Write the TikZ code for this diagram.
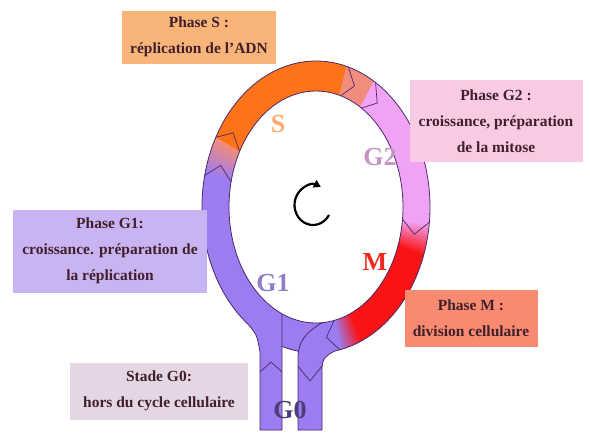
\documentclass[tikz,border=0pt]{standalone}
\usepackage{fontspec}
\setmainfont{Liberation Serif}
\usepackage{xcolor}
\definecolor{phS}{HTML}{FF7318}
\definecolor{phSbg}{HTML}{F9B47A}
\definecolor{phSalm}{HTML}{F28C7C}
\definecolor{phGtwo}{HTML}{F0A2F4}
\definecolor{phGtwobg}{HTML}{F8CAE4}
\definecolor{phM}{HTML}{F81414}
\definecolor{phMbg}{HTML}{F88A72}
\definecolor{phGone}{HTML}{9C7CF0}
\definecolor{phGonebg}{HTML}{C8B4F2}
\definecolor{phGzerobg}{HTML}{E4D6E2}
\definecolor{ringLine}{HTML}{4A2A6A}
\definecolor{boxText}{HTML}{40202A}
\usepackage{tikz}
\usetikzlibrary{arrows.meta, calc}

\begin{document}
\begin{tikzpicture}[
  x=1pt, y=-1pt,
  phasebox/.style={inner sep=0pt, align=center, text=boxText, font=\fontsize{15.5}{26}\selectfont\bfseries},
  ringlbl/.style={font=\fontsize{26}{26}\selectfont\bfseries},
  outline/.style={draw=ringLine, line width=0.8pt},
  outer arc/.style={x radius=114pt, y radius=146pt},
  inner arc/.style={x radius=87pt, y radius=116pt},
]
  \fill[white] (0,0) rectangle (590,432);
  \useasboundingbox (0,0) rectangle (590,432);
  \coordinate (ctr) at (316,207);

  \foreach \a/\b/\col in {152/73.5/phS, 74.5/58.5/phSalm, 59.5/-6.5/phGtwo, -19.5/-66.5/phM, -77.5/-193/phGone}
    \fill[\col] ($(ctr)+(\a:114pt and 146pt)$) arc[start angle=\a, end angle=\b, outer arc]
      -- ($(ctr)+(\b:87pt and 116pt)$) arc[start angle=\b, end angle=\a, inner arc] -- cycle;
  \foreach \s/\e/\ca/\cb in {151.5/167.5/phSalm/phGone, -6/-20/phGtwo/phM, -66/-78/phM/phGone}
    \foreach \i in {0,...,11} {
      \pgfmathsetmacro\ta{\s+(\e-\s)*\i/12}
      \pgfmathsetmacro\tb{\s+(\e-\s)*(\i+1.3)/12}
      \pgfmathtruncatemacro\p{100*\i/11}
      \fill[\cb!\p!\ca] ($(ctr)+(\ta:114pt and 146pt)$) arc[start angle=\ta, end angle=\tb, outer arc]
        -- ($(ctr)+(\tb:87pt and 116pt)$) arc[start angle=\tb, end angle=\ta, inner arc] -- cycle;
    }

  \coordinate (tubeLa) at ($(ctr)+(233.6:114pt and 146pt)$);
  \coordinate (tubeLb) at (282,314);
  \coordinate (tubeRa) at ($(ctr)+(-86:87pt and 116pt)$);
  \coordinate (tubeRb) at ($(ctr)+(-80.4:114pt and 146pt)$);
  \fill[phGone] (tubeLa) .. controls (257,335) .. (260,352) -- (260,430) -- (282,430) -- (tubeLb) -- cycle;
  \fill[phGone] (tubeRa) .. controls (305,333) and (298,342) .. (298,358) -- (298,430) -- (322,430) -- (322,368)
    .. controls (322,358) and (328,354) .. (tubeRb) -- cycle;

  \draw[outline] (tubeRb) arc[start angle=-80.4, end angle=233.6, outer arc];
  \draw[outline] ($(ctr)+(-107.4:114pt and 146pt)$) arc[start angle=-107.4, end angle=-99, outer arc];
  \draw[outline] (ctr) ellipse[inner arc];
  \draw[outline] (tubeLa) .. controls (257,335) .. (260,352) -- (260,430) -- (282,430) -- (tubeLb);
  \draw[outline] (tubeRa) .. controls (305,333) and (298,342) .. (298,358) -- (298,430) -- (322,430) -- (322,368)
    .. controls (322,358) and (328,354) .. (tubeRb);
  \foreach \a in {73.5, 58.5, 151.5, 167.5, -6, -78}
    \draw[draw=ringLine, line width=0.7pt] ($(ctr)+(\a:114pt and 146pt)$) -- ($(ctr)+(\a-6:100.5pt and 131pt)$) -- ($(ctr)+(\a:87pt and 116pt)$);
  \draw[draw=ringLine, line width=0.7pt] (260,372) -- (271,362) -- (282,372);
  \draw[draw=ringLine, line width=0.7pt] (298,366) -- (310,381) -- (322,366);

  \coordinate (cyc) at (313,205);
  \draw[line width=2.2pt, -{Triangle[length=7pt, width=8pt]}] ($(cyc)+(-30:18.5pt and 20pt)$)
    arc[start angle=-30, end angle=-295, x radius=18.5pt, y radius=20pt];

  \node[ringlbl, text=phS!55!white!85!orange] (lblS) at (278,124) {S};
  \node[ringlbl, text=phGtwo!60!gray] (lblGtwo) at (380,157) {G2};
  \node[ringlbl, text=phM!80!brown] (lblM) at (375,262) {M};
  \node[ringlbl, text=phGone!65!gray] (lblGone) at (273,283) {G1};
  \node[ringlbl, text=phGone!50!black] (lblGzero) at (290,410) {G0};

  \node[phasebox, fill=phSbg, minimum width=154pt, minimum height=53pt] (boxS) at (199,37) {Phase S :\\réplication de l'ADN};
  \node[phasebox, fill=phGtwobg, minimum width=173pt, minimum height=82pt] (boxGtwo) at (496,121) {Phase G2 :\\croissance, préparation\\de la mitose};
  \node[phasebox, fill=phGonebg, minimum width=194pt, minimum height=83pt] (boxGone) at (110,251) {Phase G1:\\croissance. préparation de\\la réplication};
  \node[phasebox, fill=phMbg, minimum width=133pt, minimum height=57pt] (boxM) at (471,318) {Phase M :\\division cellulaire};
  \node[phasebox, fill=phGzerobg, minimum width=178pt, minimum height=57pt] (boxGzero) at (159,391) {Stade G0:\\hors du cycle cellulaire};
\end{tikzpicture}
\end{document}
